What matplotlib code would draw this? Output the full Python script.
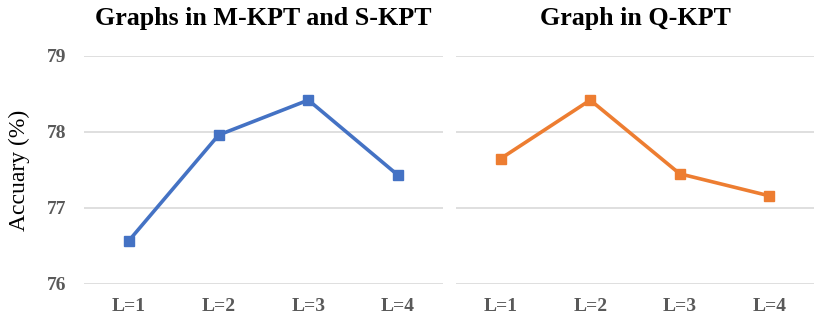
import numpy as np
import matplotlib.pyplot as plt

# data
levels = ['L=1', 'L=2', 'L=3', 'L=4']
acc_ms = [76.57, 77.96, 78.42, 77.43]   # M-KPT and S-KPT
acc_q = [77.65, 78.42, 77.45, 77.16]    # Q-KPT
yticks = [76, 77, 78, 79]

plt.rcParams['font.family'] = ['Liberation Serif']

fig = plt.figure(figsize=(8.22, 3.24), dpi=100)
ax1 = fig.add_axes([0.1022, 0.1235, 0.4367, 0.7037])
ax2 = fig.add_axes([0.5547, 0.1235, 0.4356, 0.7037])

x = np.arange(len(levels))
for ax, vals, col, title in [(ax1, acc_ms, '#4472C4', 'Graphs in M-KPT and S-KPT'),
                             (ax2, acc_q, '#ED7D31', 'Graph in Q-KPT')]:
    ax.plot(x, vals, color=col, lw=2.6, marker='s', ms=7, zorder=3)
    ax.set_xlim(-0.5, 3.5)
    ax.set_ylim(76, 79)
    ax.set_yticks(yticks)
    ax.grid(axis='y', color='#D9D9D9', lw=1.2)
    ax.set_axisbelow(True)
    for s in ax.spines.values():
        s.set_visible(False)
    ax.set_xticks(x)
    ax.set_xticklabels(levels, fontsize=14, fontweight='bold', color='#595959')
    ax.tick_params(length=0, pad=10)
    ax.set_title(title, fontsize=18.7, fontweight='bold', pad=22)

ax1.set_yticklabels([str(t) for t in yticks], fontsize=14, fontweight='bold', color='#595959')
ax1.tick_params(axis='y', pad=13)
ax1.set_ylabel('Accuary (%)', fontsize=17, labelpad=12)
ax2.set_yticklabels([])

plt.savefig('out.png')
